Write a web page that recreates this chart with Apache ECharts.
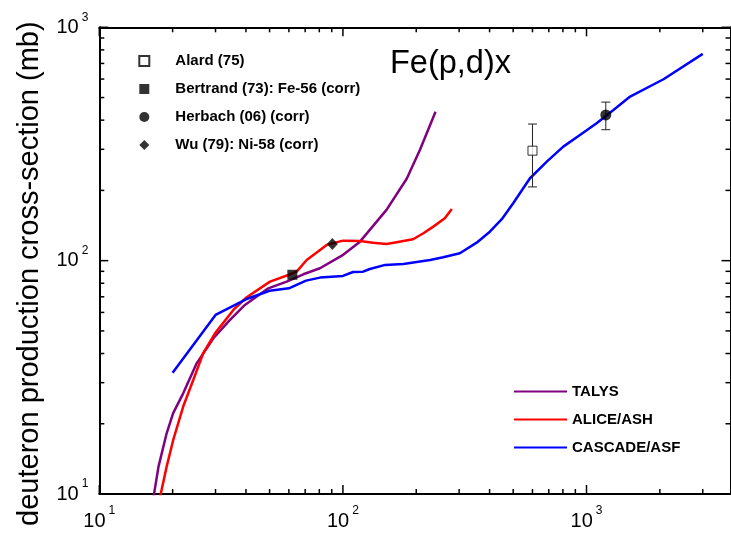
<!DOCTYPE html>
<html><head><meta charset="utf-8">
<script src="https://cdn.jsdelivr.net/npm/echarts@6/dist/echarts.min.js"></script>
<style>html,body{margin:0;padding:0;background:#fff}#c{width:731px;height:533px}</style>
</head><body><div id="c"></div>
<script>
const FONT = '"Liberation Sans", Arial, Helvetica, sans-serif';

// axis ranges and tick values
const xRange = [10, 3900];
const yRange = [10, 1000];
const xMajor = [10, 100, 1000];
const xMinor = [20, 30, 40, 50, 60, 70, 80, 90, 200, 300, 400, 500, 600, 700, 800, 900, 2000, 3000];
const yMajor = [10, 100, 1000];
const yMinor = [20, 30, 40, 50, 60, 70, 80, 90, 200, 300, 400, 500, 600, 700, 800, 900];

// TALYS
const talysE  = [16.5, 17.5, 18.9, 20.1, 22.1, 25.1, 29.4, 34.4, 39.6, 49.4, 58.8, 68.8, 80.5, 99, 117.5, 151, 183, 207, 240];
const talysXS = [9.0, 13.1, 18.2, 22.2, 27.0, 36.3, 46.5, 55.7, 64.6, 76.1, 81.3, 87.4, 92.8, 105, 120.6, 165, 225, 298, 435];

// ALICE/ASH
const aliceE  = [17.6, 18.9, 20.1, 22.1, 24.3, 26.7, 29.85, 35.5, 40.3, 50.2, 59.7, 64.6, 71.0, 85.8, 100, 117.5, 133, 151, 166, 194, 214, 235, 262, 280];
const aliceXS = [9.3, 13.1, 17.0, 23.7, 30.8, 40.1, 48.8, 61.5, 69.7, 81.3, 86.8, 89.7, 100.7, 116.8, 121.8, 121.4, 119.4, 117.9, 120, 123.5, 131.1, 139.9, 152, 166.6];

// CASCADE/ASF
const cascE  = [20, 30, 40, 50, 60, 70.6, 80.5, 100, 110, 121, 129, 149, 177, 228, 258, 302, 354, 401, 449, 500, 586, 687, 803, 940, 1100, 1290, 1510, 2070, 3000];
const cascXS = [33.1, 58.5, 68.3, 74.3, 76.1, 82.1, 84.6, 86.0, 89.4, 89.7, 92.1, 95.9, 96.8, 100.7, 103.4, 107.6, 119.4, 133.1, 150.5, 176.2, 225.5, 265.7, 308, 345.7, 388, 442.6, 504.7, 599, 769];

// experimental points
const alardE = [600],   alardXS = [296],   alardErr = [89];
const bertrandE = [62], bertrandXS = [87];
const herbachE = [1200], herbachXS = [421], herbachErr = [57];
const wuE = [90.5],     wuXS = [118];

const zip = (a, b) => a.map((v, i) => [v, b[i]]);
const errData = (e, v, d) => e.map((x, i) => [x, v[i] - d[i], v[i] + d[i]]);

const sup = (v) => {
  const p = Math.round(Math.log10(v));
  return '{b|10}{s|' + p + '}';
};
const labelRich = {
  b: { fontSize: 20, fontFamily: FONT, color: '#000', lineHeight: 32 },
  s: { fontSize: 12, fontFamily: FONT, color: '#000', verticalAlign: 'top', lineHeight: 12, padding: [0, 0, 0, 3] }
};

const axisLineStyle = { color: '#000', width: 2 };

function makeAxis(pos, labels, range, withLabels) {
  return {
    type: 'log', logBase: 10, position: pos, min: range[0], max: range[1],
    splitLine: { show: false }, minorTick: { show: false },
    axisLine: { show: true, onZero: false, lineStyle: axisLineStyle },
    axisTick: { show: false },
    axisLabel: withLabels ? { show: true, customValues: labels, formatter: sup, rich: labelRich, margin: 11 } : { show: false }
  };
}

const xAxes = [makeAxis('bottom', xMajor, xRange, true), makeAxis('top', xMajor, xRange, false)];
const yAxes = [makeAxis('left', yMajor, yRange, true), makeAxis('right', yMajor, yRange, false)];
yAxes[0].name = 'deuteron production cross-section (mb)';
yAxes[0].nameLocation = 'middle';
yAxes[0].nameGap = 55;
yAxes[0].nameTextStyle = { fontFamily: FONT, fontSize: 29, color: '#000', padding: [0, 26, 0, 0] };

const lineSeries = (name, e, v, color) => ({
  name, type: 'line', data: zip(e, v), showSymbol: false, symbol: 'none', smooth: false,
  xAxisIndex: 0, yAxisIndex: 0,
  lineStyle: { color, width: 2.5 }, itemStyle: { color }, z: 2, clip: true, animation: false
});

const errSeries = (e, v, d) => ({
  type: 'custom', data: errData(e, v, d), encode: { x: 0, y: [1, 2] }, z: 3, silent: true, animation: false,
  xAxisIndex: 0, yAxisIndex: 0,
  renderItem: (params, api) => {
    const x = api.value(0);
    const top = api.coord([x, api.value(2)]);
    const bot = api.coord([x, api.value(1)]);
    const hw = 4.5;
    const st = { stroke: '#222', lineWidth: 1 };
    return { type: 'group', children: [
      { type: 'line', shape: { x1: top[0], y1: top[1], x2: bot[0], y2: bot[1] }, style: st },
      { type: 'line', shape: { x1: top[0] - hw, y1: top[1], x2: top[0] + hw, y2: top[1] }, style: st },
      { type: 'line', shape: { x1: bot[0] - hw, y1: bot[1], x2: bot[0] + hw, y2: bot[1] }, style: st }
    ]};
  }
});

const pointSeries = (name, e, v, symbol, size, itemStyle) => ({
  name, type: 'scatter', data: zip(e, v), symbol, symbolSize: size, z: 4, xAxisIndex: 0, yAxisIndex: 0, itemStyle
});

const legendText = { fontFamily: FONT, fontSize: 15, fontWeight: 'bold', color: '#000' };

const chart = echarts.init(document.getElementById('c'), null, { renderer: 'canvas' });
chart.setOption({
  animation: false,
  backgroundColor: '#fff',
  textStyle: { fontFamily: FONT },
  title: { text: 'Fe(p,d)x', left: 390, top: 48, padding: 0, textStyle: { fontFamily: FONT, fontSize: 32.5, fontWeight: 'normal', color: '#000' } },
  grid: { left: 99.3, top: 27.3, width: 631.2, height: 466.7, containLabel: false, outerBoundsMode: 'none' },
  legend: [
    {
      data: ['Alard (75)', 'Bertrand (73): Fe-56 (corr)', 'Herbach (06) (corr)', 'Wu (79): Ni-58 (corr)'],
      orient: 'vertical', left: 138.3, top: 53.5, padding: 0, itemWidth: 10, itemHeight: 10, itemGap: 13,
      symbolKeepAspect: true, selectedMode: false,
      textStyle: Object.assign({ padding: [0, 0, 0, 21] }, legendText)
    },
    {
      data: ['TALYS', 'ALICE/ASH', 'CASCADE/ASF'],
      orient: 'vertical', left: 513, top: 384, padding: 0, itemWidth: 53, itemHeight: 10, itemGap: 13,
      selectedMode: false, itemStyle: { opacity: 0, borderWidth: 0 },
      textStyle: legendText
    }
  ],
  xAxis: xAxes,
  yAxis: yAxes,
  series: [
    lineSeries('TALYS', talysE, talysXS, '#800080'),
    lineSeries('ALICE/ASH', aliceE, aliceXS, '#ff0000'),
    lineSeries('CASCADE/ASF', cascE, cascXS, '#0000ff'),
    errSeries(alardE, alardXS, alardErr),
    errSeries(herbachE, herbachXS, herbachErr),
    pointSeries('Alard (75)', alardE, alardXS, 'rect', 9, { color: '#fff', borderColor: '#000', borderWidth: 1 }),
    pointSeries('Bertrand (73): Fe-56 (corr)', bertrandE, bertrandXS, 'rect', 10, { color: '#000' }),
    pointSeries('Herbach (06) (corr)', herbachE, herbachXS, 'circle', 11, { color: '#000' }),
    pointSeries('Wu (79): Ni-58 (corr)', wuE, wuXS, 'diamond', [11, 12], { color: '#000' })
  ]
});

// inward tick marks on all four sides, positioned through the chart's own log scales
const finder = { xAxisIndex: 0, yAxisIndex: 0 };
const px = (x, y) => chart.convertToPixel(finder, [x, y]);
const tickEls = [];
const tickStyle = { stroke: '#000', lineWidth: 1.5 };
const addX = (vals, len) => vals.forEach(v => {
  const b = px(v, yRange[0]);
  const t = px(v, yRange[1]);
  tickEls.push({ type: 'line', z: 100, silent: true, shape: { x1: b[0], y1: b[1], x2: b[0], y2: b[1] - len }, style: tickStyle });
  tickEls.push({ type: 'line', z: 100, silent: true, shape: { x1: t[0], y1: t[1], x2: t[0], y2: t[1] + len }, style: tickStyle });
});
const addY = (vals, len) => vals.forEach(v => {
  const l = px(xRange[0], v);
  const r = px(xRange[1], v);
  tickEls.push({ type: 'line', z: 100, silent: true, shape: { x1: l[0], y1: l[1], x2: l[0] + len, y2: l[1] }, style: tickStyle });
  tickEls.push({ type: 'line', z: 100, silent: true, shape: { x1: r[0], y1: r[1], x2: r[0] - len, y2: r[1] }, style: tickStyle });
});
addX(xMajor, 9); addX(xMinor, 5);
addY(yMajor, 9); addY(yMinor, 5);
chart.setOption({ graphic: { elements: tickEls } });
</script></body></html>
